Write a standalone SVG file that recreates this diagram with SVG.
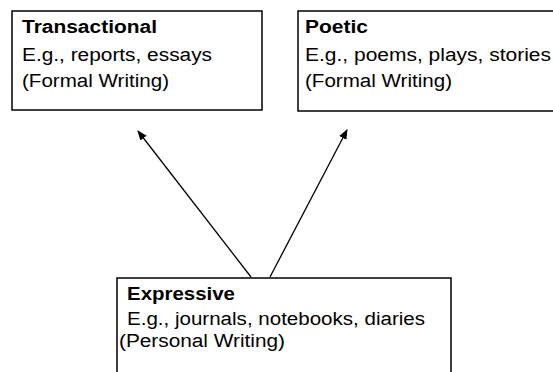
<svg xmlns="http://www.w3.org/2000/svg" width="553" height="372" viewBox="0 0 553 372">
<defs>
<style>
.box{fill:#fff;stroke:#000;stroke-width:1.5}
.t{font-family:"Liberation Sans",Arial,sans-serif;font-size:18px;fill:#000}
.b{font-weight:bold}
.c{stroke:#000;stroke-width:1.3;fill:none}
</style>
<marker id="ah" viewBox="0 0 10 10" refX="9" refY="5" markerWidth="10" markerHeight="10" markerUnits="userSpaceOnUse" orient="auto">
<path d="M0,1 L10,5 L0,9 Z" fill="#000"/>
</marker>
</defs>
<rect width="553" height="372" fill="#fff"/>
<g id="connectors">
<line class="c" x1="251" y1="277" x2="138" y2="131" marker-end="url(#ah)"/>
<line class="c" x1="270" y1="277" x2="347" y2="130" marker-end="url(#ah)"/>
</g>
<g id="transactional">
<rect class="box" x="12" y="11" width="250" height="99"/>
<text class="t b" x="22" y="33" textLength="135" lengthAdjust="spacingAndGlyphs">Transactional</text>
<text class="t" x="22" y="61" textLength="190" lengthAdjust="spacingAndGlyphs">E.g., reports, essays</text>
<text class="t" x="22" y="87" textLength="147" lengthAdjust="spacingAndGlyphs">(Formal Writing)</text>
</g>
<g id="poetic">
<rect class="box" x="298" y="11" width="257" height="100"/>
<text class="t b" x="305" y="33" textLength="63" lengthAdjust="spacingAndGlyphs">Poetic</text>
<text class="t" x="305" y="61" textLength="246" lengthAdjust="spacingAndGlyphs">E.g., poems, plays, stories</text>
<text class="t" x="305" y="87" textLength="147" lengthAdjust="spacingAndGlyphs">(Formal Writing)</text>
</g>
<g id="expressive">
<rect class="box" x="117" y="278" width="334" height="110"/>
<text class="t b" x="127" y="300" textLength="108" lengthAdjust="spacingAndGlyphs">Expressive</text>
<text class="t" x="127" y="325" textLength="298" lengthAdjust="spacingAndGlyphs">E.g., journals, notebooks, diaries</text>
<text class="t" x="119" y="347" textLength="166" lengthAdjust="spacingAndGlyphs">(Personal Writing)</text>
</g>
</svg>
